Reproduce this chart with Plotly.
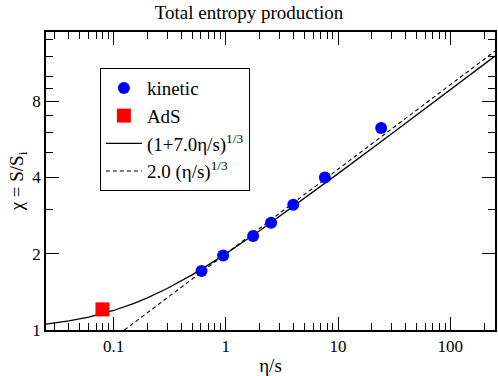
import plotly.graph_objects as go

# kinetic theory results
kin_x = [0.607, 0.946, 1.75, 2.53, 3.99, 7.63, 24.2]
kin_y = [1.71, 1.967, 2.35, 2.65, 3.12, 4.0, 6.27]

# AdS point
ads_x = [0.0796]
ads_y = [1.206]

# solid curve (1+7.0 eta/s)^(1/3)
fit_x = [0.025, 0.04, 0.06, 0.08, 0.1, 0.15, 0.2, 0.3, 0.5, 0.7, 1, 2, 5, 10, 30, 100, 250]
fit_y = [1.055, 1.086, 1.124, 1.160, 1.194, 1.270, 1.339, 1.458, 1.651, 1.807, 2.0,
         2.466, 3.302, 4.141, 5.953, 8.883, 12.05]

# dashed line 2.0 (eta/s)^(1/3), straight on log-log
asym_x = [0.125, 250]
asym_y = [1.0, 12.6]

x_major = [0.1, 1, 10, 100]
x_major_text = ["0.1", "1", "10", "100"]
x_minor = [0.03, 0.04, 0.05, 0.06, 0.07, 0.08, 0.09,
           0.2, 0.3, 0.4, 0.5, 0.6, 0.7, 0.8, 0.9,
           2, 3, 4, 5, 6, 7, 8, 9,
           20, 30, 40, 50, 60, 70, 80, 90, 200]
y_major = [1, 2, 4, 8]
y_major_text = ["1", "2", "4", "8"]
y_minor = [3, 5, 6, 7, 9, 10, 12, 14]

FONT = "Liberation Serif, Times New Roman, serif"

fig = go.Figure()

fig.add_trace(go.Scatter(
    x=fit_x, y=fit_y, mode="lines",
    name="(1+7.0η/s)<sup>1/3</sup>",
    line=dict(color="black", width=1.3),
    legendrank=3,
))
fig.add_trace(go.Scatter(
    x=asym_x, y=asym_y, mode="lines",
    name="2.0 (η/s)<sup>1/3</sup>",
    line=dict(color="black", width=1.1, dash="4px,3px"),
    legendrank=4,
))
fig.add_trace(go.Scatter(
    x=kin_x, y=kin_y, mode="markers",
    name="kinetic",
    marker=dict(color="#0000ff", size=12, symbol="circle"),
    legendrank=1,
))
fig.add_trace(go.Scatter(
    x=ads_x, y=ads_y, mode="markers",
    name="AdS",
    marker=dict(color="#ff0000", size=14, symbol="square"),
    legendrank=2,
))

axis_common = dict(
    type="log",
    showline=True, linecolor="black", linewidth=1.5,
    mirror="ticks", ticks="inside", ticklen=13, tickwidth=1, tickcolor="black",
    showgrid=False, zeroline=False,
    tickfont=dict(family=FONT, size=17, color="black"),
)

fig.update_xaxes(
    **axis_common,
    range=[-1.602, 2.398],
    tickmode="array", tickvals=x_major, ticktext=x_major_text,
    minor=dict(tickmode="array", tickvals=x_minor, ticks="inside",
               ticklen=7, tickwidth=1, tickcolor="black", showgrid=False),
    title=dict(text="η/s", font=dict(family=FONT, size=19, color="black"), standoff=6),
)
fig.update_yaxes(
    **axis_common,
    range=[0, 1.176],
    tickmode="array", tickvals=y_major, ticktext=y_major_text,
    minor=dict(tickmode="array", tickvals=y_minor, ticks="inside",
               ticklen=7, tickwidth=1, tickcolor="black", showgrid=False),
    title=dict(text="χ = S/S<sub>i</sub>", font=dict(family=FONT, size=19, color="black"),
               standoff=4),
)

fig.update_layout(
    width=498, height=376,
    margin=dict(l=46, r=1, t=32, b=46),
    paper_bgcolor="white", plot_bgcolor="white",
    font=dict(family=FONT, color="black"),
    title=dict(text="Total entropy production", x=0.5, xanchor="center",
               y=0.968, yanchor="middle", yref="container",
               font=dict(family=FONT, size=19, color="black")),
    legend=dict(
        x=0.12, y=0.879, xanchor="left", yanchor="top",
        bgcolor="white", bordercolor="black", borderwidth=1,
        font=dict(family=FONT, size=19, color="black"),
        itemwidth=36, tracegroupgap=0,
    ),
)

fig.write_html("out.html", config={"displayModeBar": False},
               post_script="document.body.style.margin='0';")
